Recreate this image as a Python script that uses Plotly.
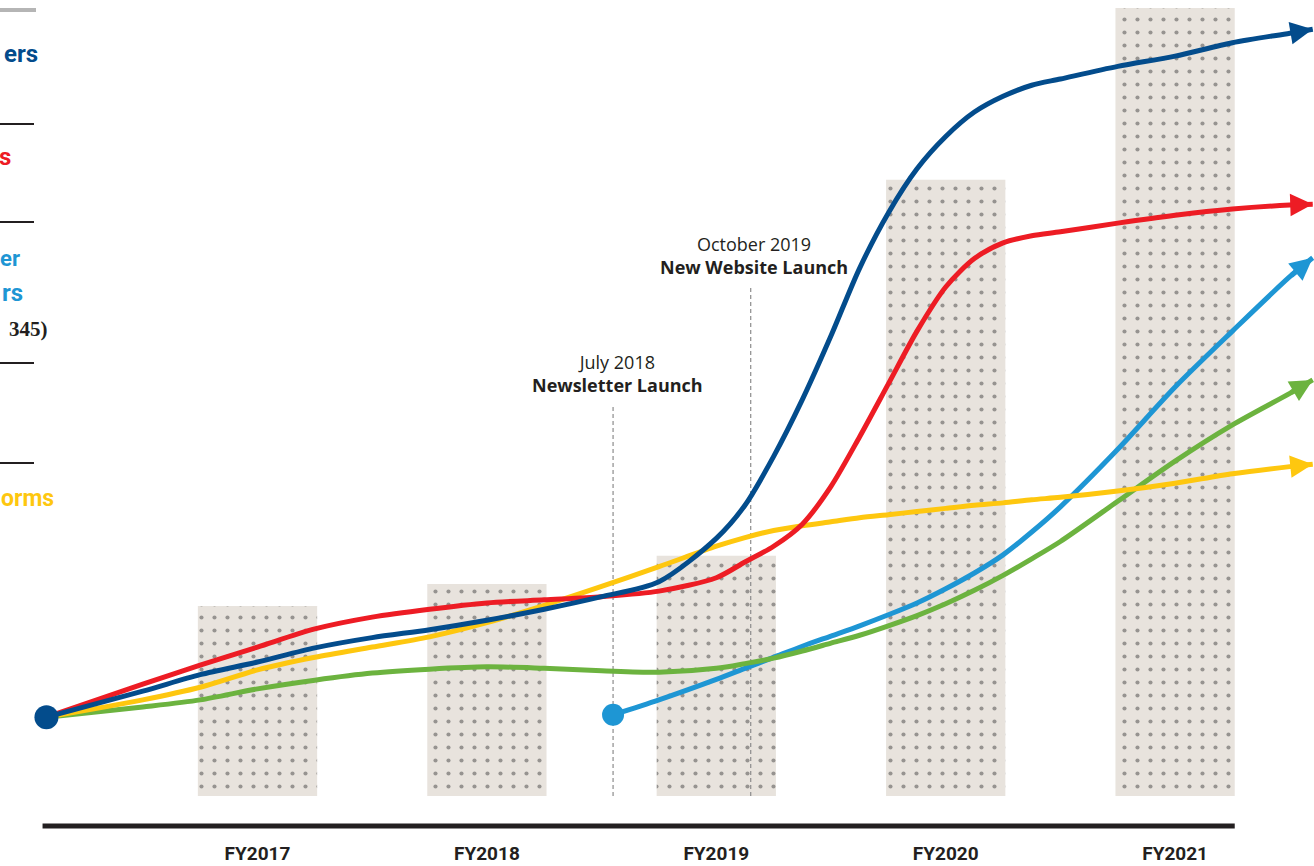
import plotly.graph_objects as go

# ---------------------------------------------------------------- data
fiscal_years = ["FY2017", "FY2018", "FY2019", "FY2020", "FY2021"]
fy_positions = [2017, 2018, 2019, 2020, 2021]
audience_totals = [24.1, 26.9, 30.5, 78.2, 100.0]

dates = [2016.08, 2016.5, 2016.75, 2017.0, 2017.25, 2017.5, 2017.75,
         2018.0, 2018.25, 2018.5, 2018.75, 2019.0, 2019.125, 2019.25,
         2019.375, 2019.5, 2019.625, 2019.75, 2019.875, 2020.0, 2020.125,
         2020.25, 2020.375, 2020.5, 2020.75, 2021.0, 2021.25, 2021.5,
         2021.6]
website_users = [10.0, 13.3, 15.4, 17.0, 18.8, 20.1, 21.1, 22.3, 23.7, 25.3,
                 27.2, 32.7, 36.9, 43.1, 50.3, 58.4, 67.0, 74.0, 79.6, 83.7,
                 86.8, 88.8, 90.2, 91.0, 92.6, 93.9, 95.6, 96.8, 97.3]
page_views = [10.0, 14.2, 16.6, 18.9, 21.2, 22.7, 23.7, 24.5, 24.9, 25.3,
              26.0, 27.7, 29.7, 31.7, 34.5, 39.3, 45.6, 52.3, 59.0, 64.6,
              68.2, 70.2, 71.1, 71.6, 72.7, 73.7, 74.5, 75.0, 75.1]
platform_reach = [10.0, 12.2, 13.8, 16.0, 17.6, 18.9, 20.2, 22.0, 24.2, 26.6,
                  29.1, 31.7, 32.8, 33.7, 34.3, 34.8, 35.3, 35.7, 36.1, 36.5,
                  36.9, 37.2, 37.6, 37.9, 38.7, 39.7, 40.9, 41.8, 42.1]
podcast_listens = [10.0, 11.3, 12.2, 13.6, 14.7, 15.6, 16.1, 16.4, 16.2, 15.9,
                   15.7, 16.2, 16.8, 17.5, 18.4, 19.4, 20.4, 21.6, 22.9, 24.4,
                   26.1, 28.0, 30.1, 32.3, 37.4, 42.5, 47.1, 51.1, 52.8]
newsletter_dates = [2018.55, 2018.75, 2019.0, 2019.125, 2019.25, 2019.375,
                    2019.5, 2019.625, 2019.75, 2019.875, 2020.0, 2020.125,
                    2020.25, 2020.375, 2020.5, 2020.75, 2021.0, 2021.25,
                    2021.5, 2021.6]
newsletter_subs = [10.3, 12.2, 14.8, 16.2, 17.6, 19.0, 20.3, 21.6, 23.0, 24.5,
                   26.3, 28.3, 30.6, 33.5, 36.7, 44.0, 51.9, 59.0, 65.9, 68.3]

event_dates = [2018.55, 2019.15]
event_months = ["July 2018", "October 2019"]
event_names = ["Newsletter Launch", "New Website Launch"]

# ---------------------------------------------------------------- style
INK = "#231f20"
NAVY = "#034c8c"
RED = "#ed1c24"
SKY = "#1e96d4"
GREEN = "#6cb33f"
GOLD = "#fec70f"
SAND = "#e8e3dd"
SANS = "Roboto, 'Liberation Sans', Arial, sans-serif"
EVENT_FONT = "'Open Sans', Roboto, sans-serif"
SERIF = "'Liberation Serif', 'DejaVu Serif', serif"

W, H, BOTTOM = 1314, 866, 40
PLOT_H = H - BOTTOM
BAR_WIDTH = 0.52
X_RANGE = [2015.8775, 2021.6055]
Y_RANGE = [-3.807, 101.02]

fig = go.Figure()

# fiscal-year totals as textured columns
fig.add_trace(go.Bar(
    x=fy_positions, y=audience_totals, width=BAR_WIDTH,
    marker=dict(color=SAND, line=dict(width=0),
                pattern=dict(shape=".", fgcolor="#444444", bgcolor=SAND,
                             size=13, solidity=0.08)),
    hoverinfo="skip",
))

# dashed event markers, above the columns but under the lines
event_tops = [49.4, 64.6]
for when, top in zip(event_dates, event_tops):
    fig.add_trace(go.Scatter(
        x=[when, when], y=[0, top], mode="lines",
        line=dict(color="#8c8c8c", width=1.2, dash="4px,3px"),
        hoverinfo="skip",
    ))

series = [
    (newsletter_dates, newsletter_subs, SKY),
    (dates, podcast_listens, GREEN),
    (dates, platform_reach, GOLD),
    (dates, page_views, RED),
    (dates, website_users, NAVY),
]
for xs, ys, color in series:
    fig.add_trace(go.Scatter(
        x=xs, y=ys, mode="lines",
        line=dict(color=color, width=5, shape="spline", smoothing=0.8),
        hoverinfo="skip",
    ))
    # arrowhead on the last segment
    fig.add_annotation(
        x=xs[-1], y=ys[-1], ax=xs[-2], ay=ys[-2],
        xref="x", yref="y", axref="x", ayref="y",
        text="", showarrow=True, arrowhead=2, arrowsize=0.9,
        arrowwidth=5, arrowcolor=color, standoff=0,
    )

# start points
fig.add_trace(go.Scatter(
    x=[dates[0]], y=[website_users[0]], mode="markers",
    marker=dict(color=NAVY, size=24), hoverinfo="skip", cliponaxis=False,
))
fig.add_trace(go.Scatter(
    x=[newsletter_dates[0]], y=[newsletter_subs[0]], mode="markers",
    marker=dict(color=SKY, size=22), hoverinfo="skip", cliponaxis=False,
))

# event captions
event_dx = [4, 3]
event_dy = [8, 6]
for when, month, name, top, dx, dy in zip(event_dates, event_months,
                                          event_names, event_tops,
                                          event_dx, event_dy):
    fig.add_annotation(
        x=when, y=top, xref="x", yref="y", xanchor="center", yanchor="bottom",
        xshift=dx, yshift=dy, showarrow=False, align="center",
        text=f"{month}<br><b>{name}</b>",
        font=dict(family=EVENT_FONT, size=18, color=INK),
    )

# baseline under the columns
fig.add_shape(type="line", xref="x", yref="paper",
              x0=dates[0] - 0.017, x1=fy_positions[-1] + BAR_WIDTH / 2,
              y0=0, y1=0, line=dict(color=INK, width=5))


# ---------------------------------------------------------------- key
def px_x(p):
    return p / W


def px_y(p):
    return (PLOT_H - p) / PLOT_H


key_rules = [(10, "#b5b5b5", 4, 36), (124, INK, 2, 34), (222, INK, 2, 34),
             (363, INK, 2, 34), (463, INK, 2, 34)]
for yy, col, wd, length in key_rules:
    fig.add_shape(type="line", xref="paper", yref="paper",
                  x0=0, x1=px_x(length), y0=px_y(yy), y1=px_y(yy),
                  line=dict(color=col, width=wd))

# key entries run in from the left edge of the page
key_labels = [
    ("ers", NAVY, 40, 54, SANS, 24),
    ("s", RED, 13, 157, SANS, 24),
    ("er", SKY, 22, 258, SANS, 22),
    ("rs", SKY, 25, 293, SANS, 24),
    ("345)", INK, 50, 329, SERIF, 21),
    ("orms", GOLD, 56, 498, SANS, 23),
]
for txt, col, right, yy, fam, sz in key_labels:
    fig.add_annotation(
        x=px_x(right), y=px_y(yy), xref="paper", yref="paper",
        xanchor="right", yanchor="middle", showarrow=False,
        text=f"<b>{txt}</b>",
        font=dict(family=fam, size=sz, color=col),
    )

fig.update_layout(
    width=W, height=H,
    margin=dict(l=0, r=0, t=0, b=BOTTOM),
    paper_bgcolor="white", plot_bgcolor="white",
    showlegend=False,
    xaxis=dict(range=X_RANGE, tickvals=fy_positions, ticktext=fiscal_years,
               showgrid=False, zeroline=False, showline=False, ticks="",
               ticklabelstandoff=14,
               tickfont=dict(family=SANS, size=19, color=INK, weight="bold")),
    yaxis=dict(range=Y_RANGE, visible=False, showgrid=False, zeroline=False),
)

fig.write_html("out.html")
